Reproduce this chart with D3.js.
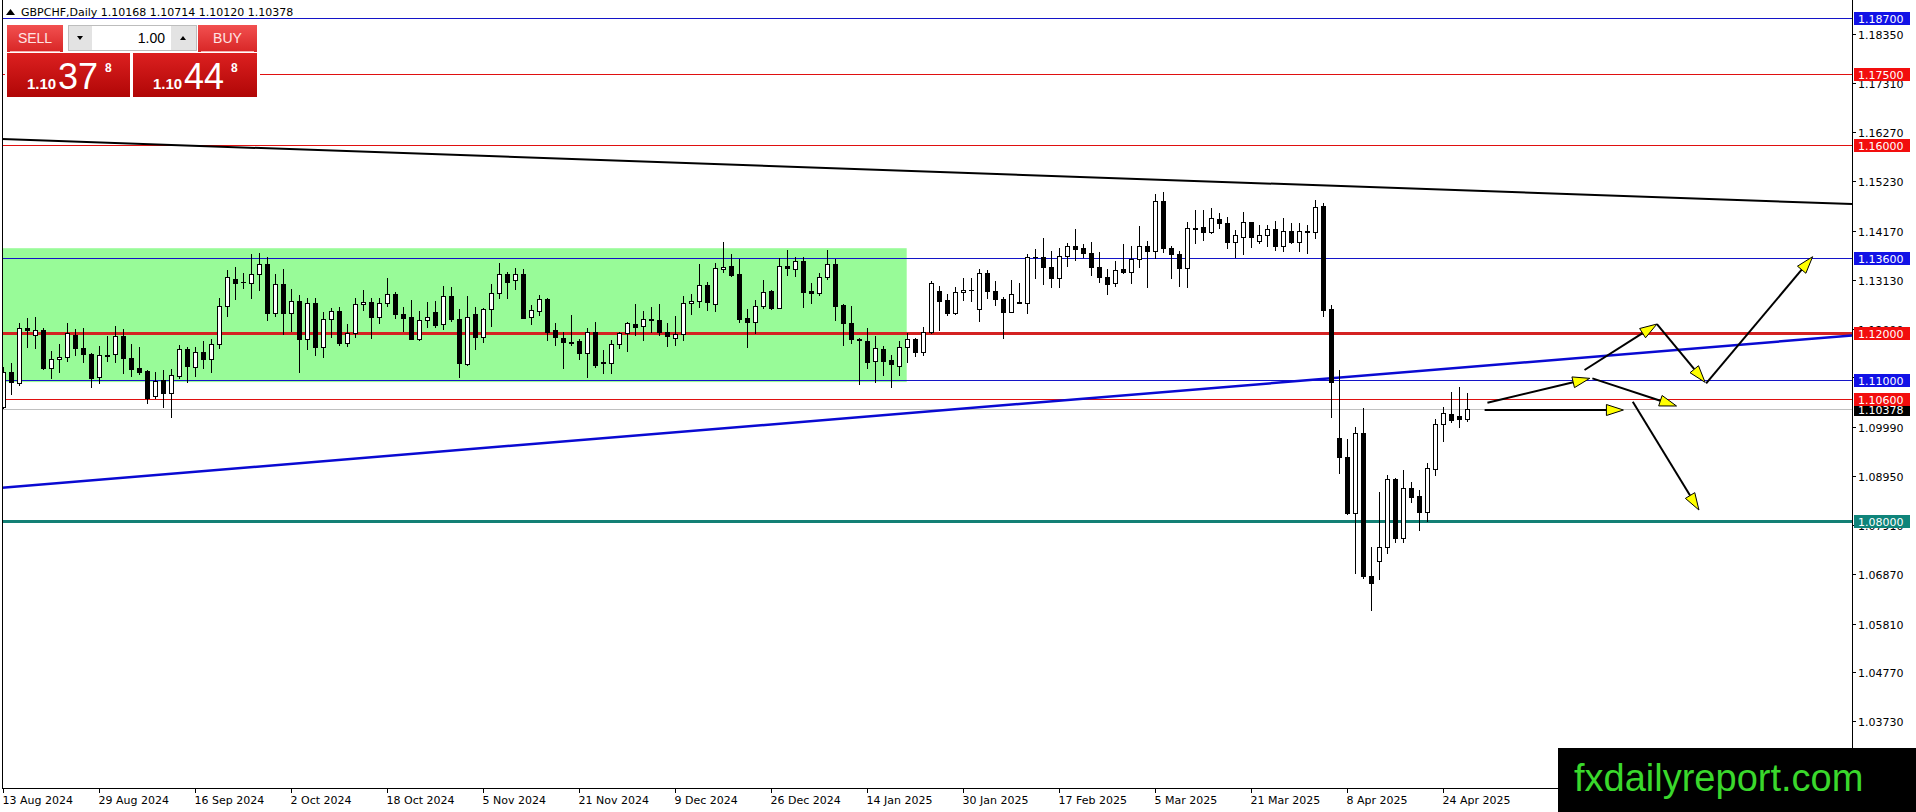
<!DOCTYPE html>
<html>
<head>
<meta charset="utf-8">
<script src="https://cdn.jsdelivr.net/npm/d3@7"></script>
<style>
body { margin: 0; background: #fff; overflow: hidden; }
svg { display: block; }
</style>
</head>
<body>
<div id="chart"></div>
<script>
// GBPCHF daily candles, 13 Aug 2024 .. 29 Apr 2025
const opens = [
  1.10427, 1.11172, 1.10923, 1.12094, 1.11945, 1.12059, 1.11243, 1.11434, 1.11477, 1.11945,
  1.11683, 1.11541, 1.11051, 1.11519, 1.11541, 1.11931, 1.11462, 1.11250, 1.11186, 1.10661,
  1.10994, 1.10725, 1.11087, 1.11654, 1.11278, 1.11590, 1.11434, 1.11753, 1.12562, 1.13137,
  1.13073, 1.13052, 1.13250, 1.13463, 1.12427, 1.13038, 1.12413, 1.12676, 1.11860, 1.12633,
  1.11704, 1.12286, 1.12463, 1.11789, 1.11988, 1.12612, 1.12654, 1.12342, 1.12626, 1.12825,
  1.12406, 1.12328, 1.11874, 1.12271, 1.12435, 1.12179, 1.12789, 1.12286, 1.11335, 1.12392,
  1.11917, 1.12498, 1.12839, 1.13243, 1.13116, 1.13250, 1.12328, 1.12470, 1.12711, 1.12059,
  1.11881, 1.11810, 1.11824, 1.11576, 1.12009, 1.11370, 1.11349, 1.11753, 1.11988, 1.12179,
  1.12144, 1.12286, 1.12271, 1.12023, 1.11895, 1.11980, 1.12626, 1.12676, 1.13009, 1.12605,
  1.13364, 1.13420, 1.13250, 1.12307, 1.12222, 1.12576, 1.12889, 1.12534, 1.13420, 1.13350,
  1.13527, 1.12889, 1.12839, 1.13194, 1.13456, 1.12590, 1.12200, 1.11860, 1.11824, 1.11399,
  1.11654, 1.11420, 1.11292, 1.11690, 1.11860, 1.11597, 1.12023, 1.12889, 1.12697, 1.12427,
  1.12860, 1.12910, 1.12498, 1.13265, 1.12896, 1.12718, 1.12449, 1.12662, 1.12640, 1.13605,
  1.13619, 1.13406, 1.13172, 1.13641, 1.13854, 1.13797, 1.13690, 1.13392, 1.13194, 1.13052,
  1.13357, 1.13300, 1.13563, 1.13846, 1.13747, 1.14811, 1.13811, 1.13669, 1.13385, 1.14228,
  1.14244, 1.14151, 1.14414, 1.14329, 1.13939, 1.14045, 1.14350, 1.13962, 1.14081, 1.14201,
  1.13846, 1.14166, 1.13925, 1.14160, 1.14138, 1.14698, 1.12499, 1.09753, 1.09355, 1.08163,
  1.09866, 1.06822, 1.07142, 1.07440, 1.08887, 1.07631, 1.08696, 1.08525, 1.08185, 1.09100,
  1.10058, 1.10271, 1.10228, 1.10168
];
const highs = [
  1.11278, 1.11349, 1.12200, 1.12307, 1.12328, 1.12094, 1.11619, 1.11760, 1.12200, 1.12073,
  1.12094, 1.11562, 1.11718, 1.11931, 1.12144, 1.12080, 1.11753, 1.11704, 1.11207, 1.11157,
  1.11207, 1.11221, 1.11739, 1.11704, 1.11704, 1.11824, 1.11874, 1.12733, 1.13336, 1.13406,
  1.13265, 1.13676, 1.13690, 1.13605, 1.13243, 1.13350, 1.12924, 1.12796, 1.12733, 1.12747,
  1.12449, 1.12520, 1.12555, 1.12179, 1.12747, 1.12910, 1.12747, 1.12747, 1.13172, 1.12874,
  1.12555, 1.12697, 1.12463, 1.12647, 1.12676, 1.12995, 1.12967, 1.12498, 1.12782, 1.12541,
  1.12520, 1.13038, 1.13477, 1.13300, 1.13370, 1.13350, 1.12590, 1.12804, 1.12733, 1.12215,
  1.12023, 1.12378, 1.11860, 1.12094, 1.12236, 1.11633, 1.11846, 1.12023, 1.12222, 1.12612,
  1.12470, 1.12541, 1.12612, 1.12200, 1.12356, 1.12782, 1.12818, 1.13463, 1.13087, 1.13492,
  1.13939, 1.13676, 1.13570, 1.12506, 1.12697, 1.13123, 1.12910, 1.13584, 1.13761, 1.13619,
  1.13619, 1.13052, 1.13279, 1.13761, 1.13563, 1.12605, 1.12569, 1.11895, 1.12094, 1.11931,
  1.11718, 1.11526, 1.11824, 1.12002, 1.11881, 1.12129, 1.13109, 1.12995, 1.12818, 1.12967,
  1.13172, 1.13158, 1.13350, 1.13336, 1.13101, 1.12754, 1.13123, 1.13052, 1.13676, 1.13775,
  1.14010, 1.13740, 1.13797, 1.13917, 1.14201, 1.13882, 1.13925, 1.13726, 1.13350, 1.13527,
  1.13889, 1.13846, 1.14272, 1.13953, 1.14953, 1.14989, 1.13846, 1.13740, 1.14364, 1.14613,
  1.14613, 1.14648, 1.14556, 1.14457, 1.14187, 1.14563, 1.14364, 1.14293, 1.14293, 1.14386,
  1.14435, 1.14343, 1.14343, 1.14294, 1.14826, 1.14756, 1.12591, 1.11207, 1.09738, 1.09994,
  1.10398, 1.07440, 1.08611, 1.08972, 1.08900, 1.09079, 1.08824, 1.08653, 1.09228, 1.10164,
  1.10420, 1.10739, 1.10845, 1.10714
];
const lows = [
  1.10391, 1.10689, 1.10888, 1.11704, 1.11668, 1.11230, 1.11030, 1.11172, 1.11406, 1.11526,
  1.11385, 1.10852, 1.10923, 1.11406, 1.11385, 1.11150, 1.11087, 1.11115, 1.10512, 1.10604,
  1.10427, 1.10214, 1.11030, 1.10959, 1.11080, 1.11243, 1.11172, 1.11683, 1.12356, 1.12718,
  1.12945, 1.12747, 1.12910, 1.12271, 1.12356, 1.11973, 1.12044, 1.11172, 1.11647, 1.11526,
  1.11491, 1.11917, 1.11739, 1.11718, 1.11902, 1.12484, 1.11881, 1.12200, 1.12569, 1.12307,
  1.12037, 1.11860, 1.11839, 1.12129, 1.12129, 1.12073, 1.12257, 1.11065, 1.11313, 1.11647,
  1.11810, 1.12144, 1.12747, 1.12747, 1.12924, 1.12310, 1.12186, 1.12378, 1.11846, 1.11739,
  1.11243, 1.11739, 1.11434, 1.11051, 1.11278, 1.11150, 1.11150, 1.11668, 1.11619, 1.11952,
  1.11846, 1.12023, 1.11952, 1.11718, 1.11739, 1.11846, 1.12399, 1.12555, 1.12484, 1.12463,
  1.13300, 1.13208, 1.12236, 1.11704, 1.11988, 1.12520, 1.12506, 1.12520, 1.13229, 1.13208,
  1.12555, 1.12626, 1.12804, 1.13137, 1.12271, 1.11739, 1.11789, 1.10902, 1.11243, 1.10959,
  1.11101, 1.10852, 1.11101, 1.11385, 1.11505, 1.11526, 1.12002, 1.12059, 1.12378, 1.12399,
  1.12697, 1.12683, 1.12257, 1.12733, 1.12590, 1.11881, 1.12440, 1.12626, 1.12413, 1.13172,
  1.13031, 1.12967, 1.12967, 1.13420, 1.13548, 1.13619, 1.13229, 1.13087, 1.12818, 1.12995,
  1.13279, 1.13066, 1.13392, 1.12967, 1.13584, 1.13726, 1.13172, 1.12995, 1.12981, 1.13917,
  1.13974, 1.14116, 1.14237, 1.13811, 1.13605, 1.13669, 1.13832, 1.13903, 1.13846, 1.13761,
  1.13740, 1.13903, 1.13740, 1.13704, 1.14010, 1.12363, 1.10213, 1.09008, 1.08142, 1.06886,
  1.06780, 1.06099, 1.06758, 1.07312, 1.07546, 1.07546, 1.08398, 1.07801, 1.07993, 1.08972,
  1.09696, 1.10101, 1.09994, 1.10120
];
const closes = [
  1.11172, 1.10945, 1.12094, 1.12066, 1.12059, 1.11243, 1.11434, 1.11484, 1.11988, 1.11668,
  1.11541, 1.11030, 1.11519, 1.11505, 1.11931, 1.11455, 1.11235, 1.11172, 1.10618, 1.10980,
  1.10725, 1.11094, 1.11647, 1.11299, 1.11590, 1.11434, 1.11753, 1.12562, 1.13180, 1.13066,
  1.13080, 1.13243, 1.13463, 1.12427, 1.13031, 1.12413, 1.12669, 1.11860, 1.12633, 1.11704,
  1.12286, 1.12463, 1.11775, 1.11988, 1.12612, 1.12662, 1.12342, 1.12626, 1.12818, 1.12406,
  1.12321, 1.11874, 1.12271, 1.12328, 1.12165, 1.12789, 1.12286, 1.11349, 1.12328, 1.11917,
  1.12506, 1.12839, 1.13243, 1.13087, 1.13243, 1.12321, 1.12484, 1.12711, 1.12023, 1.11902,
  1.11810, 1.11789, 1.11576, 1.12009, 1.11313, 1.11349, 1.11753, 1.11988, 1.12200, 1.12129,
  1.12286, 1.12264, 1.12023, 1.11938, 1.11980, 1.12626, 1.12676, 1.13009, 1.12662, 1.13370,
  1.13406, 1.13229, 1.12293, 1.12222, 1.12576, 1.12860, 1.12534, 1.13420, 1.13370, 1.13527,
  1.12874, 1.12839, 1.13194, 1.13456, 1.12569, 1.12200, 1.11860, 1.11853, 1.11385, 1.11668,
  1.11406, 1.11328, 1.11690, 1.11860, 1.11597, 1.12023, 1.13052, 1.12683, 1.12427, 1.12860,
  1.12910, 1.12903, 1.13265, 1.12896, 1.12711, 1.12449, 1.12818, 1.12640, 1.13605, 1.13619,
  1.13406, 1.13172, 1.13641, 1.13854, 1.13775, 1.13705, 1.13406, 1.13194, 1.13038, 1.13336,
  1.13300, 1.13563, 1.13846, 1.13747, 1.14811, 1.13811, 1.13669, 1.13385, 1.14222, 1.14215,
  1.14151, 1.14435, 1.14329, 1.13939, 1.14081, 1.14350, 1.14045, 1.14081, 1.14201, 1.13846,
  1.14166, 1.13939, 1.14166, 1.14144, 1.14683, 1.12484, 1.10945, 1.09349, 1.08163, 1.09866,
  1.06822, 1.06673, 1.07440, 1.08887, 1.07631, 1.08696, 1.08504, 1.08185, 1.09121, 1.10058,
  1.10292, 1.10143, 1.10164, 1.10378
];

const dateLabels = ['13 Aug 2024', '29 Aug 2024', '16 Sep 2024', '2 Oct 2024', '18 Oct 2024',
  '5 Nov 2024', '21 Nov 2024', '9 Dec 2024', '26 Dec 2024', '14 Jan 2025', '30 Jan 2025',
  '17 Feb 2025', '5 Mar 2025', '21 Mar 2025', '8 Apr 2025', '24 Apr 2025'];
const barsPerDateTick = 12;

const priceTicks = [1.18350, 1.17310, 1.16270, 1.15230, 1.14170, 1.13130, 1.12090, 1.11050,
  1.09990, 1.08950, 1.07910, 1.06870, 1.05810, 1.04770, 1.03730];

// horizontal levels
const blueLevels = [1.187, 1.136, 1.11];
const redLevels = [1.175, 1.16, 1.106];
const pivotLevel = 1.12;
const supportLevel = 1.08;
const bidPrice = 1.10378;
const askPrice = 1.10448;

// range box: [bar from, bar to], [price low, price high]
const rangeBars = [-2, 112.9];
const rangePrices = [1.1095, 1.1380];

// trend lines as two (bar, price) anchors
const upperTrend = [[0, 1.16124], [183, 1.15028]];
const lowerTrend = [[0, 1.08706], [183, 1.11269]];

// scenario arrows: [[bar, price], [bar, price]]
const arrows = [
  [[185.14, 1.10356], [202.49, 1.10356]],
  [[185.49, 1.10511], [198.28, 1.11030]],
  [[198.61, 1.11030], [209.13, 1.10441]],
  [[203.66, 1.10532], [211.93, 1.08227]],
  [[197.63, 1.11207], [206.68, 1.12186]],
  [[206.68, 1.12186], [212.70, 1.10945]],
  [[212.83, 1.10924], [226.14, 1.13619]]
];

const header = 'GBPCHF,Daily  1.10168 1.10714 1.10120 1.10378';

const W = 1916, H = 812;
const plot = { left: 2, top: 1, right: 1852, bottom: 788 };
const uiFont = '"DejaVu Sans", Tahoma, sans-serif';
const n = closes.length;

const svg = d3.select('#chart').append('svg')
    .attr('width', W)
    .attr('height', H);

const x = d3.scaleLinear().domain([0, n - 1]).range([3.5, 3.5 + 8 * (n - 1)]);
const y = d3.scaleLinear().domain([1.0231, 1.19062]).range([plot.bottom, plot.top]);
const py = p => Math.round(y(p)) + 0.5;

const defs = svg.append('defs');
defs.append('clipPath').attr('id', 'plot-clip')
    .append('rect')
    .attr('x', plot.left).attr('y', 0)
    .attr('width', plot.right - plot.left).attr('height', plot.bottom);

function gradient(id, top, bottom) {
    const g = defs.append('linearGradient').attr('id', id)
        .attr('x1', 0).attr('y1', 0).attr('x2', 0).attr('y2', 1);
    g.append('stop').attr('offset', '0%').attr('stop-color', top);
    g.append('stop').attr('offset', '100%').attr('stop-color', bottom);
}
gradient('btn-grad', '#f25050', '#d82626');
gradient('price-grad', '#dc2020', '#b00606');

const chart = svg.append('g').attr('clip-path', 'url(#plot-clip)');

// range box
chart.append('rect')
    .attr('x', x(rangeBars[0]))
    .attr('y', y(rangePrices[1]))
    .attr('width', x(rangeBars[1]) - x(rangeBars[0]))
    .attr('height', y(rangePrices[0]) - y(rangePrices[1]))
    .attr('fill', '#98fb98');

// horizontal levels
const lines = chart.append('g').attr('shape-rendering', 'crispEdges');
function hline(p, color, width) {
    lines.append('line')
        .attr('x1', plot.left).attr('x2', plot.right)
        .attr('y1', py(p)).attr('y2', py(p))
        .attr('stroke', color).attr('stroke-width', width);
}
hline(bidPrice, '#c0c0c0', 1);
blueLevels.forEach(p => hline(p, '#1414c8', 1));
redLevels.forEach(p => hline(p, '#e01010', 1));
hline(pivotLevel, '#d42222', 3);
hline(supportLevel, '#138075', 3);

// trend lines, extended across the plot
function trend(anchors, color, width) {
    const [[i0, p0], [i1, p1]] = anchors;
    const slope = (p1 - p0) / (i1 - i0);
    const il = x.invert(plot.left), ir = x.invert(plot.right);
    chart.append('line')
        .attr('x1', x(il)).attr('y1', y(p0 + slope * (il - i0)))
        .attr('x2', x(ir)).attr('y2', y(p0 + slope * (ir - i0)))
        .attr('stroke', color).attr('stroke-width', width);
}
trend(upperTrend, '#000', 2);
trend(lowerTrend, '#0a0ad2', 2.5);

// candles
const bars = d3.range(n).map(i => ({ i, o: opens[i], h: highs[i], l: lows[i], c: closes[i] }));
const candles = chart.append('g').attr('shape-rendering', 'crispEdges');
candles.selectAll('line.wick')
    .data(bars)
    .enter()
    .append('line')
    .attr('class', 'wick')
    .attr('x1', d => x(d.i)).attr('x2', d => x(d.i))
    .attr('y1', d => Math.round(y(d.h)))
    .attr('y2', d => Math.round(y(d.l)) + 1)
    .attr('stroke', '#000');
candles.selectAll('rect.body')
    .data(bars)
    .enter()
    .append('rect')
    .attr('class', 'body')
    .attr('x', d => x(d.i) - 2)
    .attr('width', 4)
    .attr('y', d => py(Math.max(d.o, d.c)))
    .attr('height', d => Math.max(py(Math.min(d.o, d.c)) - py(Math.max(d.o, d.c)), 0.01))
    .attr('fill', d => d.c >= d.o ? '#fff' : '#000')
    .attr('stroke', '#000');

// arrows
const arrowLayer = chart.append('g');
arrows.forEach(a => {
    const x1 = x(a[0][0]), y1 = y(a[0][1]);
    const x2 = x(a[1][0]), y2 = y(a[1][1]);
    const ang = Math.atan2(y2 - y1, x2 - x1);
    const len = 17, half = 5.5;
    const bx = x2 - len * Math.cos(ang), by = y2 - len * Math.sin(ang);
    const ox = -Math.sin(ang) * half, oy = Math.cos(ang) * half;
    arrowLayer.append('line')
        .attr('x1', x1).attr('y1', y1).attr('x2', bx).attr('y2', by)
        .attr('stroke', '#000').attr('stroke-width', 2);
    arrowLayer.append('polygon')
        .attr('points', [[x2, y2], [bx + ox, by + oy], [bx - ox, by - oy]].map(p => p.join(',')).join(' '))
        .attr('fill', '#ffff00')
        .attr('stroke', '#000')
        .attr('stroke-width', 1)
        .attr('stroke-linejoin', 'miter');
});

// frame
const frame = svg.append('g').attr('shape-rendering', 'crispEdges').attr('stroke', '#000');
frame.append('line').attr('x1', plot.left + 0.5).attr('x2', plot.left + 0.5).attr('y1', 0).attr('y2', plot.bottom + 1);
frame.append('line').attr('x1', plot.right + 0.5).attr('x2', plot.right + 0.5).attr('y1', 0).attr('y2', plot.bottom + 1);
frame.append('line').attr('x1', plot.left).attr('x2', plot.right + 1).attr('y1', plot.bottom + 0.5).attr('y2', plot.bottom + 0.5);

// price axis
const axisR = svg.append('g');
priceTicks.forEach(p => {
    axisR.append('line')
        .attr('x1', plot.right + 1).attr('x2', plot.right + 4)
        .attr('y1', py(p)).attr('y2', py(p))
        .attr('stroke', '#000').attr('shape-rendering', 'crispEdges');
    axisR.append('text')
        .attr('x', plot.right + 6).attr('y', py(p) + 4)
        .attr('font-family', uiFont).attr('font-size', 11)
        .attr('fill', '#000')
        .text(p.toFixed(5));
});

function priceTag(p, bg) {
    const cy = Math.round(y(p));
    axisR.append('rect')
        .attr('x', plot.right + 2).attr('y', cy - 6)
        .attr('width', 56).attr('height', 13)
        .attr('fill', bg).attr('shape-rendering', 'crispEdges');
    axisR.append('text')
        .attr('x', plot.right + 6).attr('y', cy + 5)
        .attr('font-family', uiFont).attr('font-size', 11)
        .attr('fill', '#fff')
        .text(p.toFixed(5));
}
priceTag(bidPrice, '#000');
blueLevels.forEach(p => priceTag(p, '#1212e6'));
redLevels.forEach(p => priceTag(p, '#f20e0e'));
priceTag(pivotLevel, '#f20e0e');
priceTag(supportLevel, '#0f847a');

// date axis
const axisB = svg.append('g');
dateLabels.forEach((label, k) => {
    const tx = x(k * barsPerDateTick);
    axisB.append('line')
        .attr('x1', tx).attr('x2', tx)
        .attr('y1', plot.bottom + 1).attr('y2', plot.bottom + 5)
        .attr('stroke', '#000').attr('shape-rendering', 'crispEdges');
    axisB.append('text')
        .attr('x', tx - 1).attr('y', plot.bottom + 16)
        .attr('font-family', uiFont).attr('font-size', 11)
        .attr('fill', '#000')
        .text(label);
});

// header
svg.append('polygon').attr('points', '6,15 10.5,9 15,15').attr('fill', '#000');
svg.append('text')
    .attr('x', 21).attr('y', 16)
    .attr('font-family', uiFont).attr('font-size', 11)
    .attr('fill', '#000')
    .text(header);

// one-click trading panel
const panel = svg.append('g');
const bid = bidPrice.toFixed(5), ask = askPrice.toFixed(5);
panel.append('rect').attr('x', 5).attr('y', 23).attr('width', 255).attr('height', 76).attr('fill', '#fff');

function tradeButton(x0, w, label) {
    panel.append('rect').attr('x', x0).attr('y', 25).attr('width', w).attr('height', 27)
        .attr('fill', 'url(#btn-grad)');
    panel.append('line').attr('x1', x0 + 3).attr('x2', x0 + w - 3).attr('y1', 51.5).attr('y2', 51.5)
        .attr('stroke', '#f7b0b0');
    panel.append('text').attr('x', x0 + w / 2).attr('y', 43)
        .attr('text-anchor', 'middle')
        .attr('font-family', '"Liberation Sans", Arial, sans-serif').attr('font-size', 14)
        .attr('fill', '#ffe4e4')
        .text(label);
}
tradeButton(7, 56, 'SELL');
tradeButton(198, 59, 'BUY');

// lot size control
panel.append('rect').attr('x', 68.5).attr('y', 25.5).attr('width', 128).attr('height', 25)
    .attr('fill', '#fff').attr('stroke', '#bdbdbd');
panel.append('rect').attr('x', 69).attr('y', 26).attr('width', 23).attr('height', 24).attr('fill', '#e3e3e3');
panel.append('rect').attr('x', 171).attr('y', 26).attr('width', 25).attr('height', 24).attr('fill', '#e3e3e3');
panel.append('polygon').attr('points', '77,36 83,36 80,40').attr('fill', '#000');
panel.append('polygon').attr('points', '180,40 186,40 183,36').attr('fill', '#000');
panel.append('text').attr('x', 165).attr('y', 43)
    .attr('text-anchor', 'end')
    .attr('font-family', '"Liberation Sans", Arial, sans-serif').attr('font-size', 14)
    .attr('fill', '#000')
    .text('1.00');

// quote split as in the terminal: "1.10" small, two pips big, last digit raised
function priceBox(x0, w, quote) {
    panel.append('rect').attr('x', x0).attr('y', 53).attr('width', w).attr('height', 44)
        .attr('fill', 'url(#price-grad)');
    const g = panel.append('text').attr('y', 89)
        .attr('font-family', '"Liberation Sans", Arial, sans-serif').attr('fill', '#fff');
    g.append('tspan').attr('x', x0 + 20).attr('font-size', 15).attr('font-weight', 'bold')
        .text(quote.slice(0, 4));
    g.append('tspan').attr('x', x0 + 51).attr('font-size', 36)
        .text(quote.slice(4, 6));
    panel.append('text').attr('x', x0 + 98).attr('y', 72)
        .attr('font-family', '"Liberation Sans", Arial, sans-serif')
        .attr('font-size', 12).attr('font-weight', 'bold').attr('fill', '#fff')
        .text(quote.slice(6));
}
priceBox(7, 123, bid);
priceBox(133, 124, ask);

// watermark
svg.append('rect').attr('x', 1558).attr('y', 748).attr('width', W - 1558).attr('height', H - 748)
    .attr('fill', '#000');
svg.append('text').attr('x', 1574).attr('y', 791)
    .attr('font-family', '"Liberation Sans", Arial, sans-serif').attr('font-size', 38)
    .attr('fill', '#3ad82c')
    .text('fxdailyreport.com');
</script>
</body>
</html>
